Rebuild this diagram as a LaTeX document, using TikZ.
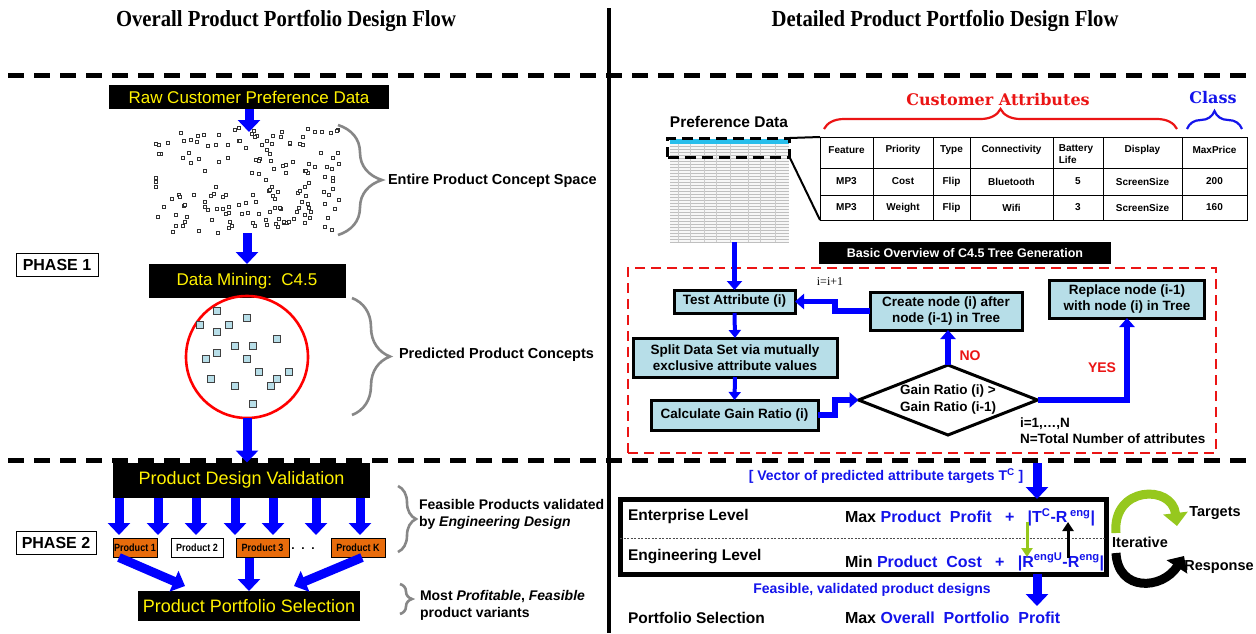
\documentclass[tikz,border=0pt]{standalone}
\usepackage{fontspec}
\setmainfont{Liberation Sans}
\newfontfamily\titlefont[FakeStretch=0.9]{Liberation Serif}
\newfontfamily\plainserif{Liberation Serif}
\newfontfamily\slabfont{DejaVu Serif}
\newfontfamily\narrowfont[FakeStretch=0.86]{Liberation Sans}
\usetikzlibrary{arrows.meta,decorations.pathreplacing,shapes.geometric,calc}

\definecolor{cellcyan}{RGB}{183,222,232}
\definecolor{prodorange}{RGB}{232,108,12}
\definecolor{leafgreen}{RGB}{150,200,30}
\definecolor{bracegray}{RGB}{135,135,135}
\definecolor{sheetcyan}{RGB}{40,190,235}
\definecolor{txtblue}{RGB}{20,20,235}
\definecolor{txtred}{RGB}{235,20,20}

\newcommand{\fsz}[2]{\fontsize{#1}{#2}\selectfont}

\tikzset{
  every node/.style={inner sep=0pt, outer sep=0pt},
  blackbox/.style={fill=black, text=yellow, font=\fsz{17}{20}, align=center},
  phasebox/.style={draw=black, line width=1pt, fill=white, font=\bfseries\fsz{16}{18}},
  prodbox/.style={draw=black, line width=0.6pt, fill=prodorange, font=\narrowfont\bfseries\fsz{10.5}{12}, minimum height=19pt},
  treebox/.style={draw=black, line width=3pt, fill=cellcyan, font=\bfseries\fsz{13.5}{16}, align=center},
  sidenote/.style={font=\bfseries\fsz{14}{17}, align=left, anchor=west},
  fatarrow/.style={draw=blue, line width=9pt, -{Triangle[width=22pt,length=12pt]}},
  flowarrow/.style={draw=blue, line width=5.5pt, -{Triangle[width=15pt,length=9pt]}},
  thinarrow/.style={draw=blue, line width=4pt, -{Triangle[width=12pt,length=8pt]}},
  divider/.style={line width=5pt, dash pattern=on 16pt off 10pt},
  graybrace/.style={draw=bracegray, line width=2.6pt, decorate},
  dotsq/.style={draw=black!80, fill=white, line width=0.55pt},
  conceptsq/.style={draw=black!75, fill=cellcyan, line width=0.7pt},
  cellt/.style={font=\bfseries\fsz{10}{12}, align=center},
  levelt/.style={font=\bfseries\fsz{15.5}{18}, anchor=west},
  loopsym/.style={line width=9pt, -{Triangle[width=24pt,length=13pt]}},
}

\begin{document}
\begin{tikzpicture}[x=1pt,y=-1pt]
\useasboundingbox (0,0) rectangle (1256,633);
\fill[white] (0,0) rectangle (1256,633);

% ---------- headings and dividers ----------
\node[font=\titlefont\bfseries\fsz{23}{26}] (h1) at (286,21) {Overall Product Portfolio Design Flow};
\node[font=\titlefont\bfseries\fsz{23}{26}] (h2) at (945,21) {Detailed Product Portfolio Design Flow};
\draw[line width=4pt] (609,8) -- (609,633);
\draw[divider] (8,75) -- (1256,75);
\draw[divider] (8,460) -- (1256,460);

% ---------- overall flow: phase 1 ----------
\node[blackbox, minimum width=280pt, minimum height=24pt] (raw) at (249,97) {Raw Customer Preference Data};

% concept space cloud
\pgfmathsetseed{11}
\foreach \k in {1,...,165}{
  \pgfmathsetmacro\px{248+93*rand}
  \pgfmathsetmacro\py{181+53*rand}
  \draw[dotsq] (\px-1.5,\py-1.5) rectangle ++(3,3);
}
\coordinate (cloudtop) at (249,132);
\coordinate (cloudlow) at (247,233);
\draw[fatarrow] (raw.south) -- (cloudtop);

\draw[graybrace, decoration={brace, amplitude=44pt}] (338,125) -- (338,235);
\node[sidenote, font=\bfseries\fsz{14.5}{17}] (ecs) at (388,181) {Entire Product Concept Space};

\node[phasebox, minimum width=82pt, minimum height=23pt] (ph1) at (57,265) {PHASE 1};
\node[blackbox, minimum width=197pt, minimum height=34pt] (dm) at (247,281) {Data Mining:\ \ C4.5};
\draw[fatarrow] (cloudlow) -- (dm.north);

% predicted concepts
\node[circle, draw=red, line width=2.6pt, minimum size=122pt] (pc) at (247,357) {};
\foreach \cx/\cy in {217/311, 200/325, 229/325, 247/318, 217/332, 277/339, 235/346, 253/346, 217/353, 206/359, 247/359, 259/372, 289/372, 277/379, 271/386, 211/379, 235/386, 253/404}
  \draw[conceptsq] (\cx-3.2,\cy-3.2) rectangle ++(6.4,6.4);

\draw[graybrace, decoration={brace, amplitude=38pt}] (352,298) -- (352,415);
\node[sidenote, font=\bfseries\fsz{14.5}{17}] (ppc) at (399,355) {Predicted Product Concepts};

% ---------- overall flow: phase 2 ----------
\node[blackbox, minimum width=257pt, minimum height=35pt, font=\fsz{18}{21}] (pdv) at (241.5,480) {Product Design Validation};
\draw[fatarrow] (pc.south) -- (pc.south |- pdv.north);

\foreach \x [count=\i] in {119,158,196,235,273,316,360}{
  \coordinate (drop\i) at (\x,535);
  \draw[fatarrow] (pdv.south -| drop\i) -- (drop\i);
}

\node[prodbox, minimum width=44pt] (p1) at (135,548) {Product 1};
\node[prodbox, fill=white, minimum width=52pt] (p2) at (197,548) {Product 2};
\node[prodbox, minimum width=53pt] (p3) at (262.5,548) {Product 3};
\node[font=\bfseries\fsz{12}{14}] (pdots) at (303,549) {.\ \ .\ \ .};
\node[prodbox, minimum width=54pt] (pK) at (358,548) {Product K};
\node[phasebox, minimum width=80pt, minimum height=23pt] (ph2) at (56,543) {PHASE 2};

\draw[graybrace, decoration={brace, amplitude=18pt}] (398,486) -- (398,552);
\node[sidenote] (fpv) at (419,514) {Feasible Products validated\\by \textit{Engineering Design}};

\node[blackbox, minimum width=222pt, minimum height=30pt, font=\fsz{18}{21}] (pps) at (249,606) {Product Portfolio Selection};
\coordinate (ppsL) at (185,586);
\coordinate (ppsR) at (294,586);
\draw[fatarrow] ([xshift=-16pt]p1.south) -- (ppsL);
\draw[fatarrow] (pps.north |- p3.south) -- (pps.north);
\draw[fatarrow] ([xshift=4pt]pK.south) -- (ppsR);

\draw[graybrace, decoration={brace, amplitude=12pt}] (400,584) -- (400,614);
\node[sidenote] (mpf) at (420,605) {Most \textit{Profitable}, \textit{Feasible}\\product variants};

% ---------- detailed flow: preference data ----------
\node[font=\bfseries\fsz{15.5}{18}] (prefl) at (729,122) {Preference Data};
\node[fill=gray!6, minimum width=119pt, minimum height=103pt] (thumb) at (729.5,190.5) {};
\foreach \yy in {146,149,...,242} \draw[gray!50, line width=0.5pt] (670,\yy) -- (789,\yy);
\foreach \xx in {678,690,704,716,730,748,760,775} \draw[gray!40, line width=0.4pt] (\xx,143) -- (\xx,242);
\fill[sheetcyan] (670,139) rectangle (789,143.5);
\node[draw, line width=3pt, dash pattern=on 11pt off 6pt, minimum width=122pt, minimum height=19pt] (hl) at (728.5,147.5) {};

% attribute table
\node[draw, line width=0.9pt, minimum width=427pt, minimum height=83pt] (tbl) at (1033.5,178.5) {};
\foreach \xx in {873,933,970,1053,1103,1182} \draw[line width=0.9pt] (\xx,137) -- (\xx,220);
\foreach \yy in {168,195} \draw[line width=0.9pt] (820,\yy) -- (1247,\yy);
\draw[line width=2pt] (hl.north east) -- (tbl.north west);
\draw[line width=2pt] (hl.south east) -- (tbl.south west);

\foreach \cx/\ta/\tb/\tc [count=\j] in {
  846.5/Feature/MP3/MP3, 903/Priority/Cost/Weight, 951.5/Type/Flip/Flip,
  1011.5/Connectivity/Bluetooth/Wifi, 1078/{}/5/3, 1142.5/Display/ScreenSize/ScreenSize,
  1214.5/MaxPrice/200/160}{
  \node[cellt] (hd\j) at (\cx,150) {\ta};
  \node[cellt] (ra\j) at (\cx,181.5) {\tb};
  \node[cellt] (rb\j) at (\cx,207.5) {\tc};
}
\node[cellt, align=left] (batt) at (1076,154) {Battery\\Life};

\node[font=\slabfont\bfseries\fsz{16}{19}, text=txtred] (ca) at (998,100) {Customer Attributes};
\draw[draw=txtred, line width=2.2pt, decorate, decoration={brace, amplitude=20pt}] (824,129) -- (1177,129);
\node[font=\slabfont\bfseries\fsz{16}{19}, text=txtblue] (cls) at (1213,98) {Class};
\draw[draw=txtblue, line width=2.2pt, decorate, decoration={brace, amplitude=18pt}] (1187,129) -- (1242,129);

% ---------- detailed flow: C4.5 tree generation ----------
\node[fill=black, text=white, font=\bfseries\fsz{12.5}{15}, minimum width=292pt, minimum height=22pt] (bo) at (965,253) {Basic Overview of C4.5 Tree Generation};
\node[draw=txtred, line width=2.5pt, dash pattern=on 10pt off 6pt, minimum width=588pt, minimum height=185pt] (loop) at (922,360.5) {};

\node[treebox, minimum width=121pt, minimum height=23pt] (test) at (734.5,301.5) {Test Attribute (i)};
\node[treebox, minimum width=152pt, minimum height=38pt] (create) at (946,311) {Create node (i) after\\node (i-1) in Tree};
\node[treebox, minimum width=155pt, minimum height=38pt] (replace) at (1127,299) {Replace node (i-1)\\with node (i) in Tree};
\node[treebox, minimum width=204pt, minimum height=39pt] (split) at (735,357.5) {Split Data Set via mutually\\exclusive attribute values};
\node[treebox, minimum width=167pt, minimum height=30pt] (calc) at (734.5,415) {Calculate Gain Ratio (i)};
\node[diamond, draw=black, line width=3pt, fill=white, minimum width=179pt, minimum height=70pt] (gr) at (948,400) {};
\node[font=\bfseries\fsz{13.5}{17}, align=center] (grt) at (gr) {Gain Ratio (i) \textgreater\\Gain Ratio (i-1)};

\draw[flowarrow] (test.north |- thumb.south) -- (test.north);
\draw[thinarrow] (test.south) -- (split.north);
\draw[thinarrow] (split.south) -- (calc.north);
\draw[flowarrow] (calc.east) -- ++(17,0) |- (gr.west);
\draw[flowarrow] (gr.north) -- (gr.north |- create.south);
\draw[flowarrow] (create.west) -- ++(-35,0) |- (test.east);
\draw[flowarrow] (gr.east) -| (replace.south);

\node[font=\plainserif\fsz{12}{14}] (inc) at (830,282) {i=i+1};
\node[text=txtred, font=\bfseries\fsz{14}{16}] (no) at (970,356) {NO};
\node[text=txtred, font=\bfseries\fsz{14}{16}] (yes) at (1102,368) {YES};
\node[anchor=west, font=\bfseries\fsz{13.5}{16}, align=left] (range) at (1020,431) {i=1,\ldots,N\\N=Total Number of attributes};

% ---------- detailed flow: two-level optimisation ----------
\node[text=txtblue, font=\bfseries\fsz{14}{17}] (vec) at (886,476) {[ Vector of predicted attribute targets T\textsuperscript{C} ]};
\node[draw=black, line width=5pt, minimum width=486pt, minimum height=75pt] (lv) at (863,536.5) {};
\draw[black!70, line width=0.6pt, dash pattern=on 2pt off 1.5pt] ($(lv.west)+(0,1.5)$) -- ($(lv.east)+(0,1.5)$);
\coordinate (vtop) at (1037,463);
\coordinate (pfend) at (1037,606);
\draw[fatarrow] (vtop) -- (vtop |- lv.north);
\draw[fatarrow] (lv.south -| pfend) -- (pfend);

\node[levelt] (ent) at (628,516) {Enterprise Level};
\node[levelt] (eng) at (628,557) {Engineering Level};
\node[anchor=west, font=\bfseries\fsz{16}{19}] (maxp) at (845,517) {Max \textcolor{txtblue}{Product\ \ Profit\ \ \ +\ \ \ |T\textsuperscript{C}-R\,\textsuperscript{eng}|}};
\node[anchor=west, font=\bfseries\fsz{16}{19}] (minc) at (845,562) {Min \textcolor{txtblue}{Product\ \ Cost\ \ \ +\ \ \ |R\textsuperscript{engU}-R\textsuperscript{eng}|}};

\coordinate (gtop) at (1027,522);
\coordinate (gbot) at (1027,557);
\coordinate (kbot) at (1068,558);
\coordinate (ktop) at (1068,522);
\draw[draw=leafgreen, line width=3pt, -{Triangle[width=11pt,length=9pt]}] (gtop) -- (gbot);
\draw[draw=black, line width=3pt, -{Triangle[width=11pt,length=9pt]}] (kbot) -- (ktop);

\node[text=txtblue, font=\bfseries\fsz{14}{17}] (feas) at (872,590) {Feasible, validated product designs};
\node[levelt] (ps) at (628,618) {Portfolio Selection};
\node[anchor=west, font=\bfseries\fsz{16}{19}] (mop) at (845,618) {Max \textcolor{txtblue}{Overall\ \ Portfolio\ \ Profit}};

% iteration loop symbol: targets go over the top, responses come back underneath
\coordinate (gstart) at (1116,533);
\coordinate (gend) at (1177,526);
\coordinate (kstart) at (1116,553);
\coordinate (kend) at (1184,556);
\draw[loopsym, draw=leafgreen] (gstart) .. controls (1112,486) and (1172,484) .. (gend);
\draw[loopsym, draw=black] (kstart) .. controls (1118,592) and (1162,590) .. (kend);
\node[font=\bfseries\fsz{14.5}{17}] (tg) at (1215,513) {Targets};
\node[font=\bfseries\fsz{14.5}{17}] (it) at (1140,542) {Iterative};
\node[font=\bfseries\fsz{14.5}{17}] (rs) at (1219,567) {Response};
\end{tikzpicture}
\end{document}
